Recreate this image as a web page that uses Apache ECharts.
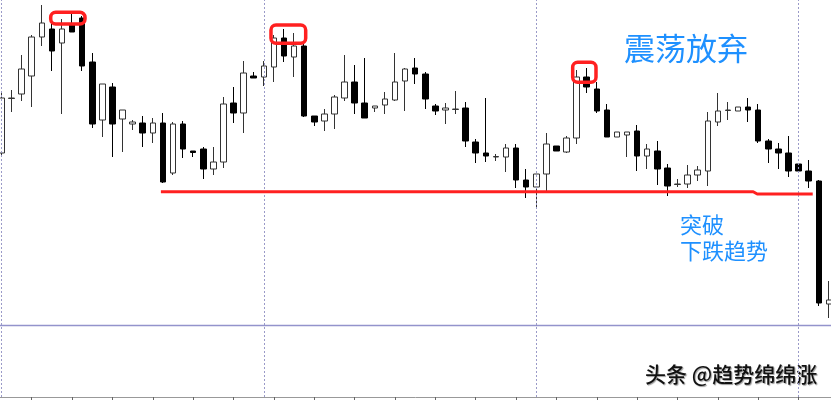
<!DOCTYPE html>
<html>
<head>
<meta charset="utf-8">
<script src="https://cdn.jsdelivr.net/npm/echarts@6/dist/echarts.min.js"></script>
<style>html,body{margin:0;padding:0;background:#fff}#c{width:831px;height:400px}</style>
</head>
<body>
<div id="c"></div>
<script>
// ---- data (price units) ----
const categories = ['1','2','3','4','5','6','7','8','9','10','11','12','13','14','15','16','17','18','19','20',
 '21','22','23','24','25','26','27','28','29','30','31','32','33','34','35','36','37','38','39','40',
 '41','42','43','44','45','46','47','48','49','50','51','52','53','54','55','56','57','58','59','60',
 '61','62','63','64','65','66','67','68','69','70','71','72','73','74','75','76','77','78','79','80',
 '81','82','83'];
const opens  = [247,301.5,306,324,363,371,357,375,382,338, 280,313,281,276,277,267,277,227,276,249,
 251,231,238,297,287,324,323,333,362,343, 354,284,279,286,302,318,297,292,295,300,
 319,332,326,294,290,290.5,292,258,247,243, 243,252,220,213,226,254,248,262,323,311,
 290,263,265,269,244,249,232,215.5,216,225, 229,278,289.5,289,293,290,259,251,247,236,
 229,219,96];
const closes = [302,302,331,363,377,349,371,368,334,276, 316,276,290,278,267,277,218,276,251,247.5,
 231,238,296,287,327,322,334,362,344,354, 284,278,286,303,318,297,282,294,301,318,
 331,326,301,289,292,291,259,247,244,243.5, 252,220,213,226,256,249,262,323,313,289,
 263,268,268,244,251,231,214,216,225,230, 279,289,290,293,290,259,251,247,229,229,
 219,97,100];
const lows   = [243,288,299,293,354,329,286,368,329,272, 263,243,248,270,253,257,217,225,242,243,
 221,225,232,277,267,322,314,318,338,323, 283,274,269,271,299,286,282,288,286,299,
 289,316,291,285,276,286,253,237,238,239, 228,212,202,192,208,249,247,256,307,287,
 263,263,243,229,231,215,204,213,212,219, 214,274,280,289,278,257,237,231,223,229,
 212,94,82];
const highs  = [308,310,345,365,395,376,381,387,384,347, 316,317,290,280,284,282,287,278,279,249,
 253,253,303,313,339,328,339,365,371,367, 357,284,291,305,345,335,342,294,308,347,
 332,342,328,296,297,309,298,261,302,246, 256,256,231,226,267,254,264,330,332,318,
 296,268,268,275,256,259,236,221,235,234, 288,307,298,293,302,296,261,257,264,236,
 240,220,119];
const separators = ['1','27','54','80'];          // dotted session lines
const levelLine = 74.3;                           // lower horizontal line
const supportX = [15.8, 74.5, 74.9, 80.4];        // red support line
const supportY = [208.3, 208.3, 206, 206];
const boxX0 = [4.88, 26.71, 56.61];               // red highlight boxes
const boxX1 = [8.28, 30.15, 58.92];
const boxTop = [387.7, 375, 337.7];
const boxBottom = [376, 356.7, 317.7];

const ohlc = opens.map((o, i) => [o, closes[i], lows[i], highs[i]]);
const supportData = supportX.map((x, i) => [x, supportY[i]]);
const boxData = boxX0.map((x, i) => [x, boxX1[i], boxTop[i], boxBottom[i]]);

const chart = echarts.init(document.getElementById('c'), null, {renderer: 'canvas'});
const blue = '#1E90FF';
chart.setOption({
  animation: false,
  backgroundColor: '#fff',
  grid: {left: -3.58, right: -2.92, top: 0, bottom: 3, containLabel: false, outerBoundsMode: 'none'},
  xAxis: [
    {type: 'category', data: categories, boundaryGap: true,
     axisLine: {show: true, lineStyle: {color: '#999', width: 1}},
     axisTick: {show: true, alignWithLabel: true, length: 3, interval: (i) => i % 4 === 3, lineStyle: {color: '#666'}},
     axisLabel: {show: false}, splitLine: {show: false}},
    {type: 'value', min: -0.5, max: 82.5, show: false}
  ],
  yAxis: {type: 'value', min: 3, max: 400, show: false, splitLine: {show: false}},
  series: [
    {type: 'candlestick', data: ohlc, barWidth: 6,
     itemStyle: {color: '#fff', color0: '#000', borderColor: '#333', borderColor0: '#000', borderWidth: 1},
     markLine: {silent: true, symbol: 'none', label: {show: false},
       data: separators.map(s => ({xAxis: s, lineStyle: {type: [2, 2], color: '#9a9ac8', width: 1}}))
         .concat([{yAxis: levelLine, lineStyle: {type: 'solid', color: '#9393cc', width: 1.4}}])}
    },
    {type: 'line', xAxisIndex: 1, data: supportData, symbol: 'none', silent: true,
     lineStyle: {color: '#ff2020', width: 3}, z: 5},
    {type: 'custom', xAxisIndex: 1, data: boxData, silent: true, z: 6,
     renderItem: function (params, api) {
       const p0 = api.coord([api.value(0), api.value(2)]);
       const p1 = api.coord([api.value(1), api.value(3)]);
       return {type: 'rect', shape: {x: p0[0], y: p0[1], width: p1[0] - p0[0], height: p1[1] - p0[1], r: 5},
               style: {fill: 'none', stroke: '#ff2020', lineWidth: 3.5}};
     }}
  ],
  graphic: [
    {type: 'text', left: 624, top: 33, style: {text: '震荡放弃', font: '31px "Noto Sans CJK SC"', fill: blue}},
    {type: 'text', left: 680, top: 214, style: {text: '突破', font: '22px "Noto Sans CJK SC"', fill: blue}},
    {type: 'text', left: 680, top: 240, style: {text: '下跌趋势', font: '22px "Noto Sans CJK SC"', fill: blue}},
    {type: 'text', left: 645, top: 364, style: {text: '头条 @趋势绵绵涨', font: '500 21px "Noto Sans CJK SC"', fill: '#111',
      textShadowColor: 'rgba(0,0,0,0.4)', textShadowOffsetX: 1, textShadowOffsetY: 1, textShadowBlur: 1}}
  ]
});
</script>
</body>
</html>
